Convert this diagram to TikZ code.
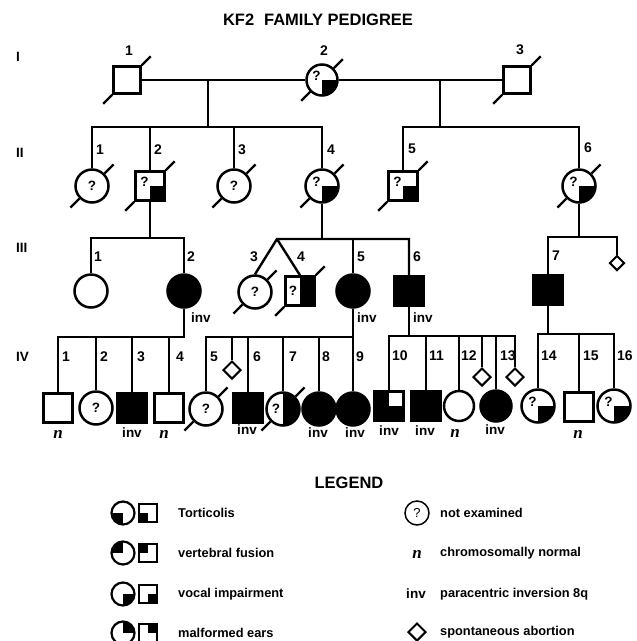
\documentclass[tikz,border=0pt]{standalone}
\usepackage{fontspec}
\setmainfont{Liberation Sans}
\newfontfamily\nfont{Liberation Serif}
\usetikzlibrary{shapes.geometric}
\tikzset{
  conn/.style={line width=2.4pt},
  qfont/.style={font=\bfseries\fontsize{13.5}{13.5}\selectfont},
  male/.style={draw, rectangle, minimum size=29pt, inner sep=0pt, line width=2.5pt, qfont},
  female/.style={draw, circle, minimum size=33pt, inner sep=0pt, line width=2.5pt, qfont},
  abort/.style={draw, diamond, minimum size=18pt, inner sep=0pt, line width=2pt},
  aff/.style={fill=black},
  qlr/.style={path picture={\fill[black] (path picture bounding box.center) rectangle (path picture bounding box.south east);}},
  qll/.style={path picture={\fill[black] (path picture bounding box.center) rectangle (path picture bounding box.south west);}},
  qul/.style={path picture={\fill[black] (path picture bounding box.center) rectangle (path picture bounding box.north west);}},
  qur/.style={path picture={\fill[black] (path picture bounding box.center) rectangle (path picture bounding box.north east);}},
  halfr/.style={path picture={\fill[black] (path picture bounding box.north) rectangle (path picture bounding box.south east);}},
  threeq/.style={path picture={\fill[black] (path picture bounding box.north west) rectangle (path picture bounding box.south);
                               \fill[black] (path picture bounding box.west) rectangle (path picture bounding box.south east);}},
  qmul/.style={label={[qfont,xshift=-5.5pt,yshift=4.5pt]center:?}},
  qmleft/.style={label={[qfont,xshift=-7pt]center:?}},
  idl/.style={font=\bfseries\fontsize{14}{14}\selectfont, anchor=west, inner sep=0pt},
  idc/.style={font=\bfseries\fontsize{14}{14}\selectfont, inner sep=0pt},
  genl/.style={font=\bfseries\fontsize{13.5}{13.5}\selectfont, anchor=west, inner sep=0pt},
  invl/.style={font=\bfseries\fontsize{13.5}{13.5}\selectfont, inner sep=0pt},
  nl/.style={font=\nfont\bfseries\itshape\fontsize{17}{17}\selectfont, inner sep=0pt},
  titl/.style={font=\bfseries\fontsize{16.5}{16.5}\selectfont, inner sep=0pt},
  lgtext/.style={font=\bfseries\fontsize{12.8}{12.8}\selectfont, anchor=west, inner sep=0pt},
  lgc/.style={draw, circle, minimum size=23pt, inner sep=0pt, line width=2.2pt},
  lgs/.style={draw, rectangle, minimum size=18pt, inner sep=0pt, line width=2.2pt},
}
\begin{document}
\begin{tikzpicture}[x=1pt,y=-1pt]
\useasboundingbox (0,0) rectangle (637,641);
\fill[white] (0,0) rectangle (637,641);

% title and generation labels
\node[titl] (title) at (318,20) {KF2\hspace{0.6em}FAMILY PEDIGREE};
\node[genl] (g1) at (16,57) {I};
\node[genl] (g2) at (16,153) {II};
\node[genl] (g3) at (16,248) {III};
\node[genl] (g4) at (16,357) {IV};

% ---------- Generation I ----------
\node[male,minimum size=27pt] (I1) at (127,80) {};
\node[female,minimum size=31pt,qlr,qmul] (I2) at (322,80) {};
\node[male,minimum size=27pt] (I3) at (517,80) {};
\node[idc] (tI1) at (129,51) {1};
\node[idc] (tI2) at (324,51) {2};
\node[idc] (tI3) at (520,50) {3};
\draw[conn] (I1) -- (I2);
\draw[conn] (I2) -- (I3);
\coordinate (m1) at (208,80);
\coordinate (m2) at (440,80);

% ---------- Generation II ----------
\node[female] (II1) at (92,186) {?};
\node[male,qlr,qmul] (II2) at (150,186) {};
\node[female] (II3) at (234,186) {?};
\node[female,qlr,qmul] (II4) at (322,186) {};
\node[male,qlr,qmul] (II5) at (403,186) {};
\node[female,qlr,qmul] (II6) at (579,186) {};
\node[idl] (tII1) at (96,150) {1};
\node[idl] (tII2) at (154,150) {2};
\node[idl] (tII3) at (238,150) {3};
\node[idl] (tII4) at (327,150) {4};
\node[idl] (tII5) at (408,149) {5};
\node[idl] (tII6) at (584,148) {6};
\coordinate (sIIa) at (208,127);
\coordinate (sIIb) at (440,127);
\draw[conn] (m1) -- (sIIa);
\draw[conn] (II1.north) |- (II4.north |- sIIa) -- (II4.north);
\draw[conn] (II2.north) -- (II2.north |- sIIa);
\draw[conn] (II3.north) -- (II3.north |- sIIa);
\draw[conn] (m2) -- (sIIb);
\draw[conn] (II5.north) |- (II6.north |- sIIb) -- (II6.north);

% ---------- Generation III ----------
\node[female] (III1) at (91,291) {};
\node[female,aff] (III2) at (184,291) {};
\node[female] (III3) at (255,292) {?};
\node[male,halfr,qmleft] (III4) at (300,291) {};
\node[female,aff] (III5) at (353,291) {};
\node[male,aff] (III6) at (409,291) {};
\node[male,aff] (III7) at (548,290) {};
\node[abort,minimum size=15pt] (D3) at (617,263) {};
\node[idl] (tIII1) at (94,257) {1};
\node[idl] (tIII2) at (187,257) {2};
\node[idc] (tIII3) at (254,257) {3};
\node[idc] (tIII4) at (301,257) {4};
\node[idl] (tIII5) at (357,257) {5};
\node[idl] (tIII6) at (413,257) {6};
\node[idl] (tIII7) at (552,256) {7};
\node[invl,anchor=west] (vIII2) at (191,318) {inv};
\node[invl,anchor=west] (vIII5) at (357,318) {inv};
\node[invl,anchor=west] (vIII6) at (413,318) {inv};
\coordinate (sIIIa) at (150,238);
\draw[conn] (II2.south) -- (sIIIa);
\draw[conn] (III1.north) |- (III2.north |- sIIIa) -- (III2.north);
\coordinate (tw) at (277,239);
\draw[conn] (II4.south) -- (II4.south |- tw);
\draw[conn] (III3.north) -- (tw) -- (III6.north |- tw) -- (III6.north);
\draw[conn] (tw) -- (III4.north);
\draw[conn] (III5.north) -- (III5.north |- tw);
\coordinate (sIIIc) at (579,237);
\draw[conn] (II6.south) -- (sIIIc);
\draw[conn] (III7.north) |- (D3.north |- sIIIc) -- (D3.north);

% ---------- Generation IV ----------
\node[male] (IV1) at (58,408) {};
\node[female] (IV2) at (96,408) {?};
\node[male,aff] (IV3) at (132,408) {};
\node[male] (IV4) at (169,408) {};
\node[female] (IV5) at (206,409) {?};
\node[abort] (D5) at (232,370) {};
\node[male,aff] (IV6) at (248,408) {};
\node[female,halfr,qmleft] (IV7) at (283,409) {};
\node[female,aff] (IV8) at (319,409) {};
\node[female,aff] (IV9) at (353,409) {};
\node[male,threeq] (IV10) at (389,406) {};
\node[male,aff] (IV11) at (426,406) {};
\node[female,minimum size=30pt] (IV12) at (459,406) {};
\node[abort] (D12) at (482,377) {};
\node[female,aff,minimum size=31pt] (IV13) at (496,406) {};
\node[abort] (D13) at (515,377) {};
\node[female,qlr,qmul] (IV14) at (538,406) {};
\node[male] (IV15) at (579,407) {};
\node[female,qlr,qmul] (IV16) at (614,406) {};

\node[idl] (tIV1) at (62,357) {1};
\node[idl] (tIV2) at (100,357) {2};
\node[idl] (tIV3) at (137,357) {3};
\node[idl] (tIV4) at (176,357) {4};
\node[idl] (tIV5) at (210,357) {5};
\node[idl] (tIV6) at (253,357) {6};
\node[idl] (tIV7) at (289,357) {7};
\node[idl] (tIV8) at (322,357) {8};
\node[idl] (tIV9) at (356,357) {9};
\node[idl] (tIV10) at (392,356) {10};
\node[idl] (tIV11) at (429,356) {11};
\node[idl] (tIV12) at (461,356) {12};
\node[idl] (tIV13) at (500,356) {13};
\node[idl] (tIV14) at (541,356) {14};
\node[idl] (tIV15) at (583,356) {15};
\node[idl] (tIV16) at (617,356) {16};

\node[nl] (nIV1) at (58,434) {n};
\node[invl] (vIV3) at (132,433) {inv};
\node[nl] (nIV4) at (164,434) {n};
\node[invl] (vIV6) at (247,430) {inv};
\node[invl] (vIV8) at (318,433) {inv};
\node[invl] (vIV9) at (355,433) {inv};
\node[invl] (vIV10) at (389,431) {inv};
\node[invl] (vIV11) at (425,431) {inv};
\node[nl] (nIV12) at (455,433) {n};
\node[invl] (vIV13) at (495,430) {inv};
\node[nl] (nIV15) at (578,434) {n};

\coordinate (sIVa) at (184,337);
\draw[conn] (III2.south) -- (sIVa) -| (IV1.north);
\draw[conn] (IV2.north) -- (IV2.north |- sIVa);
\draw[conn] (IV3.north) -- (IV3.north |- sIVa);
\draw[conn] (IV4.north) -- (IV4.north |- sIVa);

\coordinate (sIVb) at (353,337);
\draw[conn] (III5.south) -- (sIVb) -| (IV5.north);
\draw[conn] (IV9.north) -- (sIVb);
\draw[conn] (D5.north) -- (D5.north |- sIVb);
\draw[conn] (IV6.north) -- (IV6.north |- sIVb);
\draw[conn] (IV7.north) -- (IV7.north |- sIVb);
\draw[conn] (IV8.north) -- (IV8.north |- sIVb);

\coordinate (sIVc) at (409,336);
\draw[conn] (III6.south) -- (sIVc);
\draw[conn] (IV10.north) |- (D13.north |- sIVc) -- (D13.north);
\draw[conn] (IV11.north) -- (IV11.north |- sIVc);
\draw[conn] (IV12.north) -- (IV12.north |- sIVc);
\draw[conn] (D12.north) -- (D12.north |- sIVc);
\draw[conn] (IV13.north) -- (IV13.north |- sIVc);

\coordinate (sIVd) at (548,334);
\draw[conn] (III7.south) -- (sIVd);
\draw[conn] (IV14.north) |- (IV16.north |- sIVd) -- (IV16.north);
\draw[conn] (IV15.north) -- (IV15.north |- sIVd);

% deceased marks
\foreach \p in {I1,I2,I3,II1,II2,II3,II4,II5,II6,III3,III4,IV5,IV7}
  \draw[conn] (\p.north east) -- ++(9,-9) (\p.south west) -- ++(-9,9);

% ---------- Legend ----------
\node[titl] (lgtitle) at (349,483) {LEGEND};
\node[lgc,qll] (lc1) at (123,513) {};
\node[lgs,qll] (ls1) at (148,513) {};
\node[lgtext] (lt1) at (178,513) {Torticolis};
\node[lgc,qul] (lc2) at (123,553) {};
\node[lgs,qul] (ls2) at (148,553) {};
\node[lgtext] (lt2) at (178,553) {vertebral fusion};
\node[lgc,qlr] (lc3) at (123,594) {};
\node[lgs,qlr] (ls3) at (148,594) {};
\node[lgtext] (lt3) at (178,594) {vocal impairment};
\node[lgc,qur] (lc4) at (123,633) {};
\node[lgs,qur] (ls4) at (148,633) {};
\node[lgtext] (lt4) at (178,633) {malformed ears};

\node[lgc,minimum size=24pt,line width=1.5pt,font=\fontsize{13}{13}\selectfont] (rc1) at (417,513) {?};
\node[lgtext] (rt1) at (440,513) {not examined};
\node[nl] (rn) at (417,554) {n};
\node[lgtext] (rt2) at (440,553) {chromosomally normal};
\node[invl] (rinv) at (416,594) {inv};
\node[lgtext] (rt3) at (440,594) {paracentric inversion 8q};
\node[abort] (rd) at (417,632) {};
\node[lgtext] (rt4) at (440,632) {spontaneous abortion};
\end{tikzpicture}
\end{document}
